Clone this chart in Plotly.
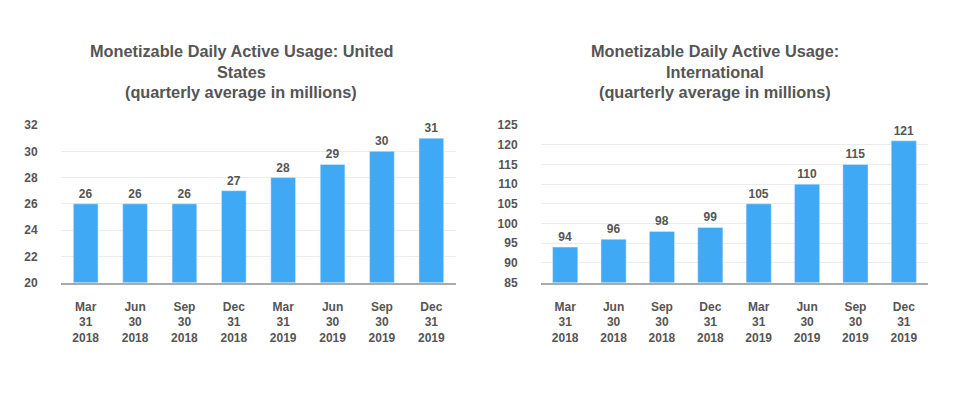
import plotly.graph_objects as go

W, H = 974, 410
OFF = 8  # default page body margin shifts the figure

categories = ["Mar<br>31<br>2018", "Jun<br>30<br>2018", "Sep<br>30<br>2018", "Dec<br>31<br>2018",
              "Mar<br>31<br>2019", "Jun<br>30<br>2019", "Sep<br>30<br>2019", "Dec<br>31<br>2019"]
us_values = [26, 26, 26, 27, 28, 29, 30, 31]
intl_values = [94, 96, 98, 99, 105, 110, 115, 121]
us_title = ["Monetizable Daily Active Usage: United", "States", "(quarterly average in millions)"]
intl_title = ["Monetizable Daily Active Usage:", "International", "(quarterly average in millions)"]

BAR = "#3FA9F5"
TXT = "#555555"
FONT = "Arial, Liberation Sans, sans-serif"

def px_x(p):
    return (p - OFF) / W

def px_y(p):
    return 1 - (p - OFF) / H

fig = go.Figure()

fig.add_trace(go.Bar(x=categories, y=us_values, marker_color=BAR, width=0.5,
                     text=us_values, texttemplate="<b>%{y}</b>", textposition="outside",
                     textfont=dict(color=TXT, size=12, family=FONT), cliponaxis=False,
                     xaxis="x", yaxis="y", showlegend=False))
fig.add_trace(go.Bar(x=categories, y=intl_values, marker_color=BAR, width=0.52,
                     text=intl_values, texttemplate="<b>%{y}</b>", textposition="outside",
                     textfont=dict(color=TXT, size=12, family=FONT), cliponaxis=False,
                     xaxis="x2", yaxis="y2", showlegend=False))

xcommon = dict(tickfont=dict(color=TXT, size=12, family=FONT), showgrid=False,
               showline=True, linecolor="#aaaaaa", linewidth=1.5,
               ticks="outside", ticklen=12, tickcolor="rgba(0,0,0,0)",
               tickvals=categories, ticktext=["<b>" + c + "</b>" for c in categories])
ycommon = dict(tickfont=dict(color=TXT, size=12, family=FONT), showgrid=True,
               gridcolor="#ececec", gridwidth=1, zeroline=False, showline=False,
               ticks="outside", ticklen=20, tickcolor="rgba(0,0,0,0)")

fig.update_layout(
    width=W, height=H, margin=dict(l=0, r=0, t=0, b=0),
    paper_bgcolor="white", plot_bgcolor="white",
    bargap=0.5,
    xaxis=dict(domain=[px_x(61), px_x(456)], anchor="y", **xcommon),
    yaxis=dict(domain=[px_y(285), px_y(122)], anchor="x", range=[20, 32],
               tickvals=[20, 22, 24, 26, 28, 30, 32],
               ticktext=["<b>%d</b>" % v for v in [20, 22, 24, 26, 28, 30, 32]], **ycommon),
    xaxis2=dict(domain=[px_x(541), px_x(928)], anchor="y2", **xcommon),
    yaxis2=dict(domain=[px_y(285), px_y(122)], anchor="x2", range=[85, 125],
                tickvals=list(range(85, 126, 5)),
                ticktext=["<b>%d</b>" % v for v in range(85, 126, 5)], **ycommon),
)

annotations = []
for cx, lines in [(241, us_title), (715, intl_title)]:
    for i, line in enumerate(lines):
        annotations.append(dict(x=px_x(cx), y=px_y(45.5 + i * 21), xref="paper", yref="paper",
                                text="<b>" + line + "</b>", showarrow=False,
                                font=dict(color=TXT, size=16.3, family=FONT),
                                xanchor="center", yanchor="middle"))
fig.update_layout(annotations=annotations)

fig.write_html("out.html")
